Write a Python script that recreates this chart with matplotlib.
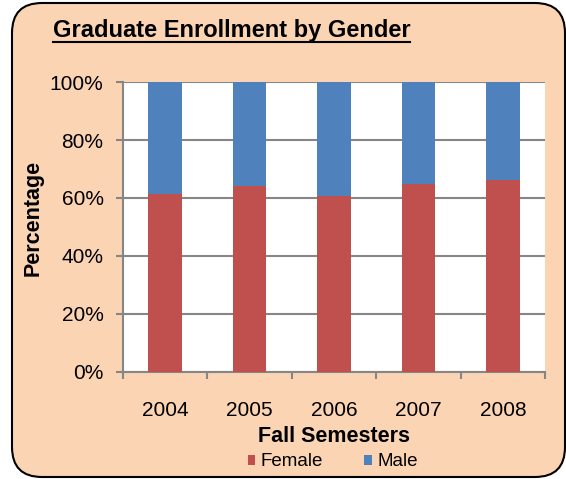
import numpy as np
import matplotlib
matplotlib.use("Agg")
import matplotlib.pyplot as plt
from matplotlib.patches import FancyBboxPatch
from matplotlib.ticker import PercentFormatter

# dados
years = ["2004", "2005", "2006", "2007", "2008"]
female = [61.3, 64.1, 60.6, 64.9, 66.3]
male = [100 - f for f in female]

plt.rcParams['font.family'] = ['Liberation Sans', 'DejaVu Sans']

fig = plt.figure(figsize=(5.66, 4.79), dpi=100)
fig.patch.set_facecolor("white")

# caixa arredondada de fundo (coordenadas em pixels)
box = FancyBboxPatch((12, 2), 553, 474,
                     boxstyle="round,pad=0,rounding_size=30",
                     transform=None, facecolor="#FBD4B4",
                     edgecolor="black", linewidth=1.5, zorder=-5)
fig.patches.append(box)

ax = fig.add_axes([0.2173, 0.2234, 0.7457, 0.6054])
ax.set_facecolor("white")

x = np.arange(len(years))
ax.bar(x, female, width=0.4, color="#C0504D", label="Female", zorder=3)
ax.bar(x, male, width=0.4, bottom=female, color="#4F81BD", label="Male", zorder=3)

ax.set_xlim(-0.5, len(years) - 0.5)
ax.set_ylim(0, 100)
ax.set_yticks(np.arange(0, 101, 20))
ax.yaxis.set_major_formatter(PercentFormatter(decimals=0))
ax.grid(axis="y", color="#868686", linewidth=1.5, zorder=1)
ax.set_axisbelow(True)

ax.set_xticks(x)
ax.set_xticklabels(years)
ax.set_xticks(np.arange(-0.5, len(years), 1), minor=True)
ax.tick_params(axis="x", which="major", length=0, pad=21, labelsize=15)
ax.tick_params(axis="x", which="minor", length=5, color="#868686", width=1.5, direction="out")
ax.tick_params(axis="y", length=5, color="#868686", width=1.5, labelsize=15, pad=9)

for s in ["top", "right"]:
    ax.spines[s].set_visible(False)
for s in ["left", "bottom"]:
    ax.spines[s].set_color("#868686")
    ax.spines[s].set_linewidth(1.5)

ax.set_xlabel("Fall Semesters", fontsize=15.5, fontweight="bold")
ax.xaxis.set_label_coords(0.5, -0.223)
ax.xaxis.label.set_verticalalignment("center")
ax.set_ylabel("Percentage", fontsize=15.5, fontweight="bold")
ax.yaxis.set_label_coords(-0.213, 0.53)
ax.yaxis.label.set_verticalalignment("center")

fig.text(0.094, 0.937, "Graduate Enrollment by Gender", fontsize=17,
         fontweight="bold", ha="left", va="center")
# sublinhado do titulo
fig.add_artist(plt.Line2D([0.094, 0.725], [0.912, 0.912], color="black",
                          linewidth=1.5, transform=fig.transFigure))

fig.legend(loc="center", bbox_to_anchor=(0.588, 0.0355), ncol=2, frameon=False,
           fontsize=13.5, handlelength=0.4, handleheight=0.4, handletextpad=0.3,
           columnspacing=2.2)

fig.savefig("out.png", dpi=100)
